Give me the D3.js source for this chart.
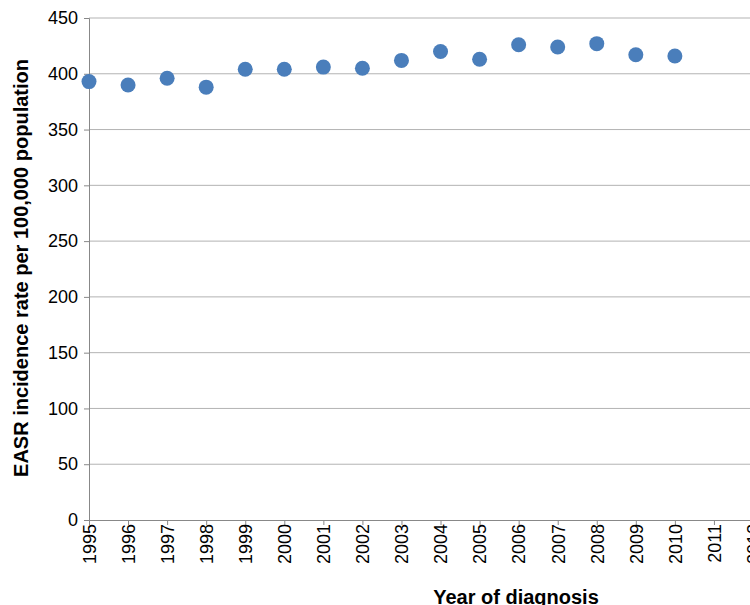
<!DOCTYPE html>
<html><head><meta charset="utf-8">
<script src="https://cdn.jsdelivr.net/npm/d3@7"></script>
<style>body{margin:0;background:#fff}svg{display:block}</style>
</head><body>
<svg id="chart" width="750" height="605"></svg>
<script>
const years = d3.range(1995, 2013)
const dataYears = [1995,1996,1997,1998,1999,2000,2001,2002,2003,2004,2005,2006,2007,2008,2009,2010]
const rates = [393,390,396,388,404,404,406,405,412,420,413,426,424,427,417,416]
const yTicks = [0,50,100,150,200,250,300,350,400,450]

const svg = d3.select("#chart")
const x = d3.scaleLinear().domain([1995, 2012]).range([89, 753])
const y = d3.scaleLinear().domain([0, 450]).range([520, 18])

// gridlines
svg.append("g").selectAll("line").data(yTicks.slice(1)).join("line")
  .attr("x1", 89).attr("x2", 750)
  .attr("y1", d => y(d)).attr("y2", d => y(d))
  .attr("stroke", "#b3b3b3").attr("stroke-width", 1)

const yAxis = svg.append("g").attr("transform", "translate(89,0)")
  .call(d3.axisLeft(y).tickValues(yTicks).tickSize(5).tickPadding(6))
const xAxis = svg.append("g").attr("transform", "translate(0,520)")
  .call(d3.axisBottom(x).tickValues(years).tickFormat(d3.format("d")).tickSize(5))
xAxis.selectAll("text")
  .attr("transform", "rotate(-90)").attr("text-anchor", "end")
  .attr("x", -4).attr("y", 0).attr("dy", "0.35em")
;[yAxis, xAxis].forEach(a => {
  a.select(".domain").attr("stroke", "#888")
  a.selectAll(".tick line").attr("stroke", "#888")
  a.selectAll("text").attr("font-family", "Liberation Sans, Arial, sans-serif")
    .attr("font-size", 18).attr("fill", "#000")
})

svg.append("g").selectAll("circle").data(dataYears).join("circle")
  .attr("cx", d => x(d)).attr("cy", (d, i) => y(rates[i]))
  .attr("r", 7.5).attr("fill", "#4a7ebb")

svg.append("text").attr("x", 516).attr("y", 604).attr("text-anchor", "middle")
  .attr("font-family", "Liberation Sans, Arial, sans-serif").attr("font-weight", "bold")
  .attr("font-size", 20).text("Year of diagnosis")
svg.append("text").attr("transform", "translate(28,268) rotate(-90)").attr("text-anchor", "middle")
  .attr("font-family", "Liberation Sans, Arial, sans-serif").attr("font-weight", "bold")
  .attr("font-size", 20).text("EASR incidence rate per 100,000 population")
</script>
</body></html>
